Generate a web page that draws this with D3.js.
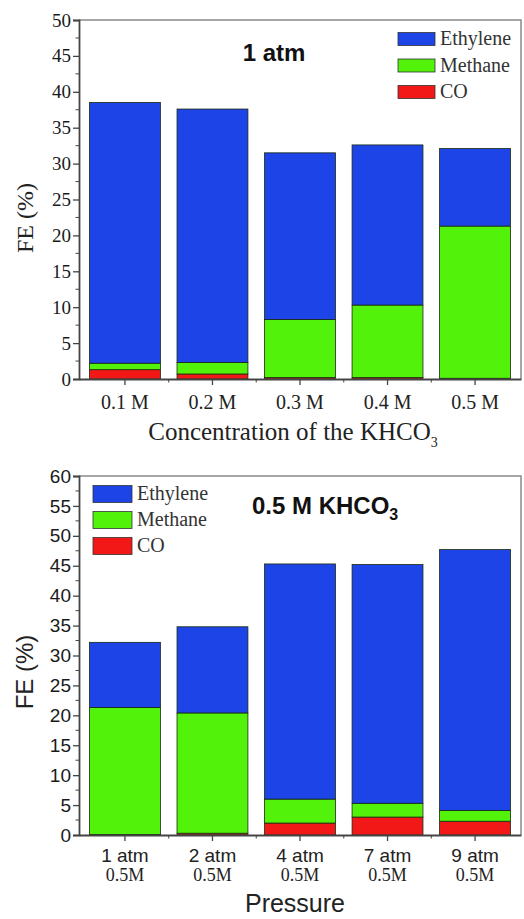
<!DOCTYPE html>
<html>
<head>
<meta charset="utf-8">
<script src="https://cdn.jsdelivr.net/npm/d3@7"></script>
<style>
  body { margin: 0; background: #fff; }
  svg { display: block; }
</style>
</head>
<body>
<svg id="chart" width="524" height="919"></svg>
<script>
// series order, bottom to top of each stack
const seriesNames = ['CO', 'Methane', 'Ethylene'];
const legendOrder = ['Ethylene', 'Methane', 'CO'];

// panel (a): 1 atm, varying KHCO3 concentration
const concLabels = ['0.1 M', '0.2 M', '0.3 M', '0.4 M', '0.5 M'];
const concCO = [1.3, 0.7, 0.2, 0.2, 0.1];
const concMethane = [0.9, 1.6, 8.1, 10.1, 21.2];
const concEthylene = [36.3, 35.3, 23.2, 22.3, 10.8];
const concTicks = [0, 5, 10, 15, 20, 25, 30, 35, 40, 45, 50];

// panel (b): 0.5 M KHCO3, varying pressure
const pressLabels = ['1 atm', '2 atm', '4 atm', '7 atm', '9 atm'];
const pressSub = ['0.5M', '0.5M', '0.5M', '0.5M', '0.5M'];
const pressCO = [0.1, 0.3, 2.0, 3.0, 2.3];
const pressMethane = [21.2, 20.1, 4.0, 2.3, 1.8];
const pressEthylene = [10.9, 14.4, 39.3, 39.9, 43.6];
const pressTicks = [0, 5, 10, 15, 20, 25, 30, 35, 40, 45, 50, 55, 60];

const colors = { Ethylene: '#1c44e6', Methane: '#52f20a', CO: '#f21818' };
const serif = "'Liberation Serif', 'Times New Roman', serif";
const sans = "'Liberation Sans', Arial, sans-serif";

const svg = d3.select('#chart');

function drawPanel(opt) {
  const rows = opt.labels.map((l, i) => ({
    label: l, CO: opt.co[i], Methane: opt.methane[i], Ethylene: opt.ethylene[i]
  }));

  const x = d3.scaleBand()
              .domain(opt.labels)
              .range([79, 521])
              .paddingInner(0.19)
              .paddingOuter(0.12);

  const y = d3.scaleLinear()
              .domain([0, opt.ticks[opt.ticks.length - 1]])
              .range([opt.bottom, opt.top]);

  const g = svg.append('g');

  // frame (top and right, light)
  g.append('path')
    .attr('d', 'M79,' + opt.top + 'H521V' + opt.bottom)
    .attr('fill', 'none')
    .attr('stroke', '#8a8a8a')
    .attr('stroke-width', 1.5);

  const stacked = d3.stack().keys(seriesNames)(rows);

  g.selectAll('.layer')
    .data(stacked)
    .enter()
    .append('g')
      .attr('fill', d => colors[d.key])
    .selectAll('rect')
    .data(d => d)
    .enter()
    .append('rect')
      .attr('x', d => x(d.data.label))
      .attr('width', x.bandwidth())
      .attr('y', d => y(d[1]))
      .attr('height', d => y(d[0]) - y(d[1]))
      .attr('stroke', '#1a2a10')
      .attr('stroke-width', 0.8);

  // y axis
  const yAxis = g.append('g')
                  .attr('transform', 'translate(79,0)')
                  .call(d3.axisLeft(y).tickValues(opt.ticks).tickSize(6).tickPadding(2));
  const minorY = d3.range(2.5, opt.ticks[opt.ticks.length - 1], 5);
  yAxis.selectAll('.minor')
    .data(minorY)
    .enter()
    .append('line')
      .attr('x1', -3.5)
      .attr('x2', 0)
      .attr('y1', d => y(d))
      .attr('y2', d => y(d))
      .attr('stroke', '#444');
  yAxis.select('.domain').attr('stroke', '#444').attr('stroke-width', 1.8);
  yAxis.selectAll('.tick line').attr('stroke', '#444').attr('stroke-width', 1.3);
  yAxis.selectAll('.tick text')
    .attr('font-family', opt.tickFont)
    .attr('font-size', opt.tickSize)
    .attr('fill', '#1a1a1a');

  // x axis
  const xAxis = g.append('g')
                  .attr('transform', 'translate(0,' + opt.bottom + ')')
                  .call(d3.axisBottom(x).tickSize(6).tickSizeOuter(0).tickFormat(''));
  xAxis.select('.domain').attr('stroke', '#444').attr('stroke-width', 1.8);
  xAxis.selectAll('.tick line').attr('stroke', '#444').attr('stroke-width', 1.3);
  const step = x.step();
  xAxis.selectAll('.minor')
    .data(opt.labels.slice(1))
    .enter()
    .append('line')
      .attr('x1', d => x(d) - step * 0.095)
      .attr('x2', d => x(d) - step * 0.095)
      .attr('y1', 0)
      .attr('y2', 3.5)
      .attr('stroke', '#444');

  // category labels
  g.selectAll('.cat')
    .data(opt.labels)
    .enter()
    .append('text')
      .attr('x', d => x(d) + x.bandwidth() / 2)
      .attr('y', opt.bottom + opt.catDy)
      .attr('text-anchor', 'middle')
      .attr('font-family', opt.catFont)
      .attr('font-size', opt.catSize)
      .attr('fill', '#222')
      .text(d => d);

  if (opt.sub) {
    g.selectAll('.sub')
      .data(opt.labels)
      .enter()
      .append('text')
        .attr('x', d => x(d) + x.bandwidth() / 2)
        .attr('y', opt.bottom + opt.catDy + 19)
        .attr('text-anchor', 'middle')
        .attr('font-family', serif)
        .attr('font-size', 18)
        .attr('fill', '#222')
        .text((d, i) => opt.sub[i]);
  }

  // y title
  g.append('text')
    .attr('transform', 'translate(' + opt.yTitleX + ',' + opt.yTitleY + ') rotate(-90)')
    .attr('text-anchor', 'middle')
    .attr('font-family', opt.yTitleFont)
    .attr('font-size', opt.yTitleSize)
    .attr('fill', '#222')
    .text('FE (%)');

  // legend
  const leg = g.append('g')
                .attr('transform', 'translate(' + opt.legX + ',' + opt.legY + ')');
  const item = leg.selectAll('.item')
                  .data(legendOrder)
                  .enter()
                  .append('g')
                    .attr('transform', (d, i) => 'translate(0,' + i * opt.legStep + ')');
  item.append('rect')
    .attr('x', 0)
    .attr('y', -opt.boxH / 2)
    .attr('width', opt.boxW)
    .attr('height', opt.boxH)
    .attr('fill', d => colors[d])
    .attr('stroke', '#333')
    .attr('stroke-width', 0.8);
  item.append('text')
    .attr('x', opt.boxW + 5)
    .attr('y', 6)
    .attr('font-family', serif)
    .attr('font-size', 20)
    .attr('fill', '#333')
    .text(d => d);

  return g;
}

const topPanel = drawPanel({
  labels: concLabels, co: concCO, methane: concMethane, ethylene: concEthylene,
  ticks: concTicks, top: 20, bottom: 379,
  tickFont: serif, tickSize: 19,
  catFont: serif, catSize: 20, catDy: 30,
  yTitleX: 33, yTitleY: 218, yTitleFont: serif, yTitleSize: 24,
  legX: 398, legY: 39, legStep: 26.5, boxW: 37, boxH: 13
});

topPanel.append('text')
  .attr('x', 274)
  .attr('y', 61)
  .attr('text-anchor', 'middle')
  .attr('font-family', sans)
  .attr('font-weight', 'bold')
  .attr('font-size', 24)
  .attr('fill', '#111')
  .text('1 atm');

const topTitle = topPanel.append('text')
  .attr('x', 293)
  .attr('y', 440)
  .attr('text-anchor', 'middle')
  .attr('font-family', serif)
  .attr('font-size', 25)
  .attr('fill', '#222');
topTitle.append('tspan').text('Concentration of the KHCO');
topTitle.append('tspan').attr('dy', 7).attr('font-size', 14).text('3');

const bottomPanel = drawPanel({
  labels: pressLabels, co: pressCO, methane: pressMethane, ethylene: pressEthylene,
  ticks: pressTicks, top: 476, bottom: 835,
  tickFont: sans, tickSize: 19,
  catFont: sans, catSize: 19, catDy: 27,
  sub: pressSub,
  yTitleX: 33, yTitleY: 672, yTitleFont: sans, yTitleSize: 24,
  legX: 93, legY: 494, legStep: 26, boxW: 39, boxH: 17
});

const botTitle = bottomPanel.append('text')
  .attr('x', 252)
  .attr('y', 514)
  .attr('font-family', sans)
  .attr('font-weight', 'bold')
  .attr('font-size', 24)
  .attr('fill', '#111');
botTitle.append('tspan').text('0.5 M KHCO');
botTitle.append('tspan').attr('dy', 6).attr('font-size', 16).text('3');

bottomPanel.append('text')
  .attr('x', 295)
  .attr('y', 912)
  .attr('text-anchor', 'middle')
  .attr('font-family', sans)
  .attr('font-size', 25)
  .attr('fill', '#222')
  .text('Pressure');
</script>
</body>
</html>
